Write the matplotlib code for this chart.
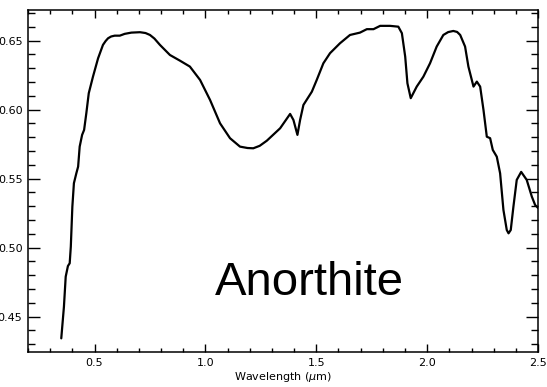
import matplotlib
matplotlib.use("Agg")
import matplotlib.pyplot as plt
from matplotlib.ticker import MultipleLocator, FormatStrFormatter

# Reflectance spectrum of anorthite
wavelength = [0.350, 0.362, 0.370, 0.380, 0.388, 0.393, 0.400, 0.407, 0.418, 0.426,
              0.433, 0.444, 0.453, 0.463, 0.474, 0.493, 0.516, 0.538, 0.550, 0.561,
              0.575, 0.591, 0.614, 0.636, 0.666, 0.705, 0.730, 0.750, 0.770, 0.795,
              0.840, 0.885, 0.930, 0.976, 1.021, 1.066, 1.111, 1.156, 1.190, 1.216,
              1.245, 1.277, 1.337, 1.382, 1.397, 1.415, 1.427, 1.442, 1.480, 1.502,
              1.532, 1.562, 1.607, 1.652, 1.697, 1.728, 1.758, 1.788, 1.833, 1.870,
              1.886, 1.901, 1.911, 1.926, 1.953, 1.983, 2.013, 2.043, 2.073, 2.095,
              2.118, 2.135, 2.149, 2.171, 2.186, 2.209, 2.224, 2.239, 2.254, 2.269,
              2.284, 2.296, 2.314, 2.329, 2.344, 2.359, 2.367, 2.377, 2.389, 2.404,
              2.424, 2.449, 2.472, 2.487, 2.500]
reflectance = [0.4343, 0.4572, 0.4790, 0.4867, 0.4887, 0.5007, 0.5297, 0.5467, 0.5539, 0.5587,
               0.5732, 0.5817, 0.5853, 0.5974, 0.6119, 0.6239, 0.6372, 0.6469, 0.6497, 0.6517,
               0.6530, 0.6536, 0.6536, 0.6549, 0.6558, 0.6561, 0.6555, 0.6541, 0.6515, 0.6469,
               0.6396, 0.6355, 0.6312, 0.6215, 0.6070, 0.5901, 0.5793, 0.5732, 0.5722, 0.5720,
               0.5738, 0.5775, 0.5865, 0.5969, 0.5925, 0.5817, 0.5925, 0.6034, 0.6130, 0.6215,
               0.6336, 0.6409, 0.6481, 0.6541, 0.6558, 0.6583, 0.6583, 0.6607, 0.6607, 0.6601,
               0.6554, 0.6384, 0.6191, 0.6083, 0.6167, 0.6239, 0.6336, 0.6457, 0.6541, 0.6562,
               0.6570, 0.6563, 0.6541, 0.6457, 0.6312, 0.6167, 0.6203, 0.6167, 0.5998, 0.5804,
               0.5793, 0.5708, 0.5659, 0.5539, 0.5273, 0.5128, 0.5104, 0.5128, 0.5297, 0.5491,
               0.5549, 0.5491, 0.5370, 0.5309, 0.5288]

mineral = "Anorthite"
x_label = r"Wavelength ($\mu$m)"

fig = plt.figure(figsize=(5.47, 3.87), dpi=100)
ax = fig.add_axes([0.0512, 0.0904, 0.9324, 0.8838])

ax.plot(wavelength, reflectance, color="black", linewidth=1.6,
        solid_joinstyle="round", solid_capstyle="round")

ax.set_xlim(0.2, 2.5)
ax.set_ylim(0.4244, 0.6722)

ax.xaxis.set_major_locator(MultipleLocator(0.5))
ax.xaxis.set_minor_locator(MultipleLocator(0.1))
ax.yaxis.set_major_locator(MultipleLocator(0.05))
ax.yaxis.set_minor_locator(MultipleLocator(0.01))
ax.xaxis.set_major_formatter(FormatStrFormatter("%.1f"))
ax.yaxis.set_major_formatter(FormatStrFormatter("%.2f"))

for side in ax.spines.values():
    side.set_linewidth(1.1)

ax.tick_params(axis="both", which="both", direction="in", top=True, right=True,
               width=1.0, labelsize=8)
ax.tick_params(axis="x", which="major", length=5.5, pad=4)
ax.tick_params(axis="x", which="minor", length=3)
ax.tick_params(axis="y", which="major", length=8.4, pad=4)
ax.tick_params(axis="y", which="minor", length=4.8)

ax.set_xlabel(x_label, fontsize=8, labelpad=2)

ax.text(1.043, 0.4657, mineral, fontsize=34, family="Liberation Sans",
        ha="left", va="baseline")

fig.savefig("out.png", dpi=100)
